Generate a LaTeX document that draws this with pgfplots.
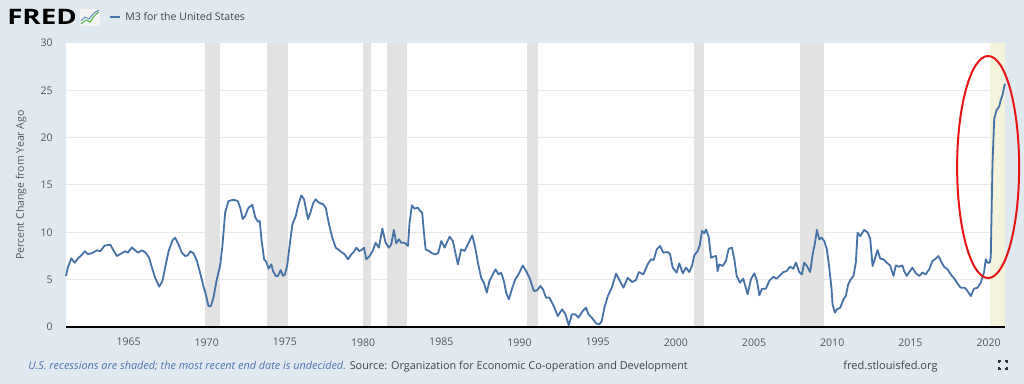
\documentclass[border=0pt]{standalone}
\usepackage{fontspec}
\setmainfont{Open Sans}
\usepackage{pgfplots}
\usepackage{pgfplotstable}
\pgfplotsset{compat=1.18}
\definecolor{bg}{RGB}{225,233,240}
\definecolor{recg}{RGB}{226,226,226}
\definecolor{recy}{RGB}{244,244,221}
\definecolor{fredblue}{RGB}{69,114,167}
\definecolor{gridc}{RGB}{232,232,232}
\definecolor{txtg}{RGB}{85,85,85}
\definecolor{noteblue}{RGB}{78,115,176}
\definecolor{ringred}{RGB}{232,20,20}

\pgfplotstableread{
x y
1961.00 5.4
1961.12 6.3
1961.34 7.25
1961.55 6.8
1961.80 7.3
1962.00 7.6
1962.20 8.0
1962.40 7.7
1962.66 7.8
1962.98 8.1
1963.19 8.0
1963.47 8.6
1963.83 8.7
1964.25 7.5
1964.57 7.8
1964.79 8.0
1964.96 7.85
1965.21 8.4
1965.60 7.85
1965.85 8.1
1966.10 7.85
1966.32 7.3
1966.49 6.3
1966.70 5.2
1966.96 4.26
1967.17 4.86
1967.34 6.27
1967.56 8.0
1967.81 9.15
1967.98 9.44
1968.20 8.7
1968.41 7.85
1968.62 7.5
1968.79 7.57
1968.94 8.0
1969.15 7.8
1969.37 7.0
1969.58 5.7
1969.79 4.3
1969.94 3.45
1970.11 2.2
1970.26 2.2
1970.43 3.1
1970.64 5.0
1970.86 6.5
1971.00 8.55
1971.18 12.1
1971.39 13.3
1971.60 13.4
1971.82 13.4
1971.99 13.3
1972.14 12.6
1972.30 11.4
1972.45 11.7
1972.67 12.6
1972.92 12.9
1973.10 11.6
1973.28 11.1
1973.39 11.2
1973.50 9.26
1973.67 7.15
1973.81 6.87
1973.96 6.16
1974.13 6.62
1974.24 5.9
1974.41 5.4
1974.56 5.4
1974.73 6.0
1974.88 5.4
1975.00 5.56
1975.14 6.44
1975.31 8.73
1975.48 10.85
1975.69 11.7
1975.84 12.8
1976.05 13.9
1976.22 13.5
1976.37 12.25
1976.48 11.4
1976.63 12.08
1976.80 13.06
1976.97 13.5
1977.12 13.2
1977.27 13.06
1977.44 12.96
1977.61 12.6
1977.82 10.85
1978.03 9.44
1978.25 8.38
1978.40 8.2
1978.61 7.92
1978.82 7.68
1979.03 7.15
1979.25 7.68
1979.40 7.92
1979.57 8.38
1979.74 8.03
1979.89 8.1
1980.06 8.38
1980.20 7.15
1980.42 7.5
1980.63 8.1
1980.80 8.9
1981.01 8.38
1981.23 10.4
1981.44 8.9
1981.65 8.38
1981.80 8.73
1981.97 10.25
1982.12 8.84
1982.29 9.26
1982.44 8.9
1982.65 8.9
1982.87 8.56
1982.97 11.0
1983.12 12.85
1983.29 12.5
1983.50 12.6
1983.65 12.25
1983.78 12.08
1983.87 10.3
1984.00 8.2
1984.21 8.03
1984.42 7.78
1984.63 7.68
1984.80 7.8
1985.00 9.08
1985.21 8.38
1985.53 9.54
1985.74 9.08
1986.06 6.62
1986.27 8.2
1986.49 8.03
1986.70 8.73
1986.98 9.68
1987.17 8.38
1987.34 6.8
1987.55 5.2
1987.72 4.68
1987.91 3.63
1988.08 4.86
1988.30 5.56
1988.47 6.1
1988.66 5.56
1988.83 5.74
1989.00 4.86
1989.15 3.63
1989.32 2.92
1989.51 3.98
1989.72 5.0
1989.94 5.56
1990.21 6.5
1990.43 5.9
1990.64 5.2
1990.92 3.8
1991.13 3.87
1991.34 4.33
1991.50 3.98
1991.70 3.1
1991.92 3.1
1992.19 2.2
1992.45 1.16
1992.73 1.87
1992.94 1.34
1993.15 0.18
1993.35 1.34
1993.56 1.34
1993.77 0.99
1994.05 1.7
1994.26 2.04
1994.41 1.34
1994.62 0.99
1994.90 0.39
1995.11 0.28
1995.26 0.63
1995.43 2.04
1995.65 3.27
1995.90 4.15
1996.18 5.63
1996.39 4.96
1996.65 4.15
1996.92 5.2
1997.20 4.75
1997.45 4.96
1997.63 5.8
1997.92 5.56
1998.20 6.62
1998.41 7.15
1998.58 7.08
1998.78 8.2
1998.99 8.56
1999.20 7.85
1999.48 7.92
1999.63 7.68
1999.80 6.27
2000.05 5.74
2000.22 6.73
2000.44 5.67
2000.65 6.27
2000.86 5.8
2001.03 6.44
2001.18 7.57
2001.40 8.03
2001.54 8.73
2001.67 10.14
2001.82 9.9
2001.93 10.3
2002.10 9.54
2002.25 7.32
2002.40 7.43
2002.57 7.5
2002.67 5.9
2002.78 6.62
2002.99 6.44
2003.20 6.97
2003.38 8.27
2003.59 8.38
2003.74 7.15
2003.89 5.4
2004.10 4.68
2004.31 5.1
2004.59 3.45
2004.80 5.04
2005.02 5.67
2005.19 4.86
2005.34 3.34
2005.51 4.05
2005.76 4.05
2005.97 4.86
2006.23 5.3
2006.44 5.1
2006.66 5.46
2006.87 5.8
2007.08 5.9
2007.30 6.37
2007.51 6.16
2007.68 6.8
2007.89 5.8
2008.06 5.56
2008.21 6.8
2008.42 6.35
2008.59 5.8
2008.74 7.6
2008.89 8.8
2009.02 10.25
2009.17 9.26
2009.32 9.44
2009.49 9.08
2009.66 8.2
2009.81 6.27
2009.96 3.98
2010.02 2.4
2010.17 1.51
2010.30 1.87
2010.51 2.04
2010.72 2.92
2010.87 3.27
2011.02 4.5
2011.19 5.04
2011.36 5.4
2011.51 6.8
2011.62 9.96
2011.79 9.6
2012.04 10.25
2012.26 10.0
2012.43 9.33
2012.58 6.44
2012.75 7.32
2012.90 8.13
2013.07 7.22
2013.28 7.15
2013.49 6.8
2013.70 6.5
2013.92 5.4
2014.07 6.5
2014.28 6.37
2014.49 6.5
2014.60 5.9
2014.77 5.4
2014.92 5.8
2015.13 6.27
2015.35 5.67
2015.56 5.4
2015.77 5.74
2015.98 5.56
2016.20 6.1
2016.41 6.97
2016.62 7.22
2016.79 7.5
2016.98 6.87
2017.15 6.37
2017.37 6.1
2017.58 5.56
2017.84 5.04
2018.05 4.5
2018.22 4.15
2018.48 4.15
2018.65 3.8
2018.86 3.27
2019.07 4.05
2019.29 4.15
2019.50 4.68
2019.71 5.8
2019.82 7.15
2019.92 6.8
2020.07 6.8
2020.14 7.4
2020.25 17.3
2020.36 22.0
2020.51 22.9
2020.68 23.3
2020.78 24.0
2020.89 24.5
2021.04 25.7
}\mthree

\begin{document}
\begin{tikzpicture}
\begin{scope}[x=0.75pt,y=0.75pt]
\fill[bg] (0,0) rectangle (1024,384);
\useasboundingbox (0,0) rectangle (1024,384);
% header
\node[anchor=west, inner sep=0] at (7,367) {\scalebox{1.3}[1]{\fontsize{16}{16}\selectfont\bfseries FRED}};
\fill[white!92!gray] (80,358) rectangle (100,375);
\draw[green!60!black!70, line width=0.8pt] (81,360) -- (86,364) -- (90,362) -- (95,369) -- (99,372);
\draw[fredblue!80, line width=0.8pt] (81,363) -- (85,367) -- (89,365) -- (94,371) -- (99,374);
\draw[fredblue, line width=1.5pt] (110,367) -- (120,367);
\node[anchor=west, inner sep=0, text=txtg!80!black] at (125,367) {\fontsize{7.9}{9}\selectfont M3 for the United States};
% y label
\node[rotate=90, inner sep=0, text=txtg] at (21,199) {\fontsize{7.9}{9}\selectfont Percent Change from Year Ago};
% footer
\node[anchor=west, inner sep=0] at (28,17) {\fontsize{8.15}{9}\selectfont\textcolor{noteblue}{\itshape U.S. recessions are shaded; the most recent end date is undecided.} \textcolor{txtg!80!black}{Source: Organization for Economic Co-operation and Development}};
\node[anchor=west, inner sep=0, text=txtg!80!black] at (843,17) {\fontsize{8.3}{9}\selectfont fred.stlouisfed.org};
\draw[black!80, line width=0.8pt] (999,21) -- (999,23) -- (1001,23) (1005,23) -- (1007,23) -- (1007,21) (1007,17) -- (1007,15) -- (1005,15) (1001,15) -- (999,15) -- (999,17);
\end{scope}
\begin{axis}[
  at={(49.5pt,42.75pt)}, anchor=south west,
  scale only axis, width=704.25pt, height=213pt,
  xmin=1961, xmax=2021.05, ymin=0, ymax=30,
  xtick={1965,1970,...,2020}, ytick={0,5,...,30},
  /pgf/number format/1000 sep={},
  /pgf/number format/assume math mode=true,
  major tick length=0pt,
  axis line style={draw=none},
  axis background/.style={fill=white},
  ymajorgrids, grid style={gridc, line width=0.75pt},
  tick label style={font=\fontsize{7.9}{9}\selectfont, text=txtg},
  yticklabel style={xshift=-6.5pt},
  xticklabel style={yshift=-5pt},
  clip=false,
]
\addplot[fill=recg, draw=none] coordinates {(1969.92,30) (1970.87,30)} \closedcycle;
\addplot[fill=recg, draw=none] coordinates {(1973.83,30) (1975.17,30)} \closedcycle;
\addplot[fill=recg, draw=none] coordinates {(1980.0,30) (1980.5,30)} \closedcycle;
\addplot[fill=recg, draw=none] coordinates {(1981.5,30) (1982.83,30)} \closedcycle;
\addplot[fill=recg, draw=none] coordinates {(1990.5,30) (1991.17,30)} \closedcycle;
\addplot[fill=recg, draw=none] coordinates {(2001.17,30) (2001.83,30)} \closedcycle;
\addplot[fill=recg, draw=none] coordinates {(2007.95,30) (2009.45,30)} \closedcycle;
\addplot[fill=recy, draw=none] coordinates {(2020.09,30) (2021.05,30)} \closedcycle;
\addplot[fredblue, line width=1.35pt, line join=round, mark=none] table[x=x, y=y] {\mthree};
\draw[black, line width=1.5pt] (rel axis cs:0,0) -- (rel axis cs:1,0);
\draw[ringred, line width=1.5pt] (axis cs:2019.97,16.9) ellipse [x radius=23.25pt, y radius=83.25pt];
\end{axis}
\end{tikzpicture}
\end{document}
